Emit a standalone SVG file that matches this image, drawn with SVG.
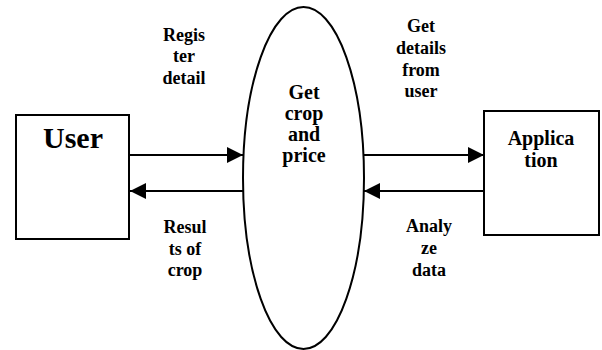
<svg xmlns="http://www.w3.org/2000/svg" width="602" height="350" viewBox="0 0 602 350">
<defs>
<style>
.box{fill:#fff;stroke:#000;stroke-width:2}
.ell{fill:#fff;stroke:#000;stroke-width:2}
.t{font-family:"Liberation Serif","Times New Roman",serif;font-weight:bold;fill:#000;text-anchor:middle}
.lbl{font-size:18px}
.mid{font-size:20px}
.big{font-size:30px}
.conn{stroke:#000;stroke-width:2.2;fill:none;marker-end:url(#ah)}
</style>
<marker id="ah" viewBox="0 0 16 16" refX="16" refY="8" markerWidth="16" markerHeight="16" markerUnits="userSpaceOnUse" orient="auto">
<path d="M0,0 L16,8 L0,16 Z" fill="#000"/>
</marker>
</defs>
<rect width="602" height="350" fill="#fff"/>
<g id="user">
<rect class="box" x="16" y="115" width="113" height="124"/>
<text class="t big" x="73" y="148">User</text>
</g>
<g id="process">
<ellipse class="ell" cx="303.5" cy="178" rx="60.5" ry="171"/>
<text class="t mid" x="304" y="99">Get</text>
<text class="t mid" x="304" y="120">crop</text>
<text class="t mid" x="304" y="141">and</text>
<text class="t mid" x="304" y="162">price</text>
</g>
<g id="application">
<rect class="box" x="484" y="111" width="115" height="124"/>
<text class="t mid" x="541" y="145">Applica</text>
<text class="t mid" x="541" y="167">tion</text>
</g>
<g id="connectors">
<line class="conn" x1="129" y1="155" x2="243" y2="155"/>
<line class="conn" x1="243" y1="191" x2="130" y2="191"/>
<line class="conn" x1="364" y1="155" x2="484" y2="155"/>
<line class="conn" x1="484" y1="191" x2="364" y2="191"/>
</g>
<g id="labels">
<text class="t lbl" x="184" y="41">Regis</text>
<text class="t lbl" x="184" y="62">ter</text>
<text class="t lbl" x="184" y="84">detail</text>
<text class="t lbl" x="185" y="233">Resul</text>
<text class="t lbl" x="185" y="255">ts of</text>
<text class="t lbl" x="185" y="276">crop</text>
<text class="t lbl" x="421" y="32">Get</text>
<text class="t lbl" x="421" y="54">details</text>
<text class="t lbl" x="421" y="76">from</text>
<text class="t lbl" x="421" y="97">user</text>
<text class="t lbl" x="429" y="232">Analy</text>
<text class="t lbl" x="429" y="254">ze</text>
<text class="t lbl" x="429" y="276">data</text>
</g>
</svg>
